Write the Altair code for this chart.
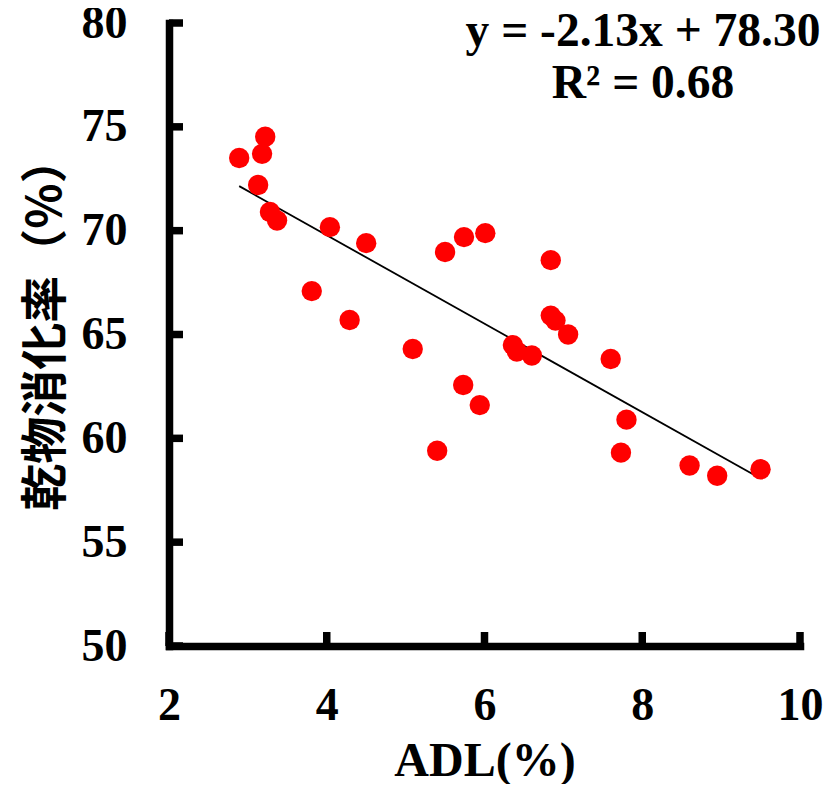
import altair as alt
import pandas as pd

# ADL (%) and dry-matter digestibility (%)
adl = [2.89, 3.22, 3.18, 3.13, 3.28, 3.37, 4.04, 4.50, 3.81, 4.29,
       5.50, 5.74, 6.01, 5.09, 5.73, 5.94, 5.40, 6.84, 6.84, 6.90,
       7.06, 6.36, 6.41, 6.60, 7.60, 7.80, 7.73, 8.60, 8.95, 9.50]
digest = [73.50, 74.52, 73.70, 72.20, 70.90, 70.49, 70.17, 69.40, 67.09, 65.70,
          68.97, 69.69, 69.88, 64.30, 62.57, 61.60, 59.40, 68.58, 65.91, 65.67,
          65.00, 64.49, 64.18, 63.99, 63.82, 60.90, 59.31, 58.69, 58.20, 58.51]

slope = -2.13
intercept = 78.30
eq_lines = ["y = -2.13x + 78.30", "R\u00b2 = 0.68"]

x_ticks = [2, 4, 6, 8, 10]
y_ticks = [50, 55, 60, 65, 70, 75, 80]

x_title = "ADL(%)"
y_title = "乾物消化率（%）"

W, H = 631, 623

pts = pd.DataFrame({"adl": adl, "dmd": digest})
xmin, xmax = min(adl), max(adl)
trend = pd.DataFrame({"adl": [xmin, xmax],
                      "dmd": [slope * xmin + intercept, slope * xmax + intercept]})
xt = pd.DataFrame({"v": x_ticks})
yt = pd.DataFrame({"v": y_ticks})

serif = "Liberation Serif"

xscale = alt.Scale(domain=[2, 10], nice=False, zero=False)
yscale = alt.Scale(domain=[50, 80], nice=False, zero=False)

xaxis = alt.Axis(values=x_ticks, format="d", title=x_title, labelFlush=False, labelPadding=37,
                 titlePadding=9, titleFont=serif, titleFontSize=48, titleFontWeight="bold")
yaxis = alt.Axis(values=y_ticks, format="d", title=y_title, labelPadding=42, titlePadding=11,
                 titleY=300,
                 titleFont="Noto Sans CJK JP", titleFontSize=47, titleFontWeight="bold")

points = alt.Chart(pts).mark_circle(size=415, color="#ff0000", opacity=1).encode(
    x=alt.X("adl:Q", scale=xscale, axis=xaxis),
    y=alt.Y("dmd:Q", scale=yscale, axis=yaxis),
)

line = alt.Chart(trend).mark_line(color="black", strokeWidth=1.8).encode(
    x=alt.X("adl:Q", scale=xscale),
    y=alt.Y("dmd:Q", scale=yscale),
)

xtick_marks = alt.Chart(xt).mark_rule(color="black", strokeWidth=7.5).encode(
    x=alt.X("v:Q", scale=xscale),
    y=alt.value(H),
    y2=alt.value(H - 14),
)
ytick_marks = alt.Chart(yt).mark_rule(color="black", strokeWidth=7.5).encode(
    y=alt.Y("v:Q", scale=yscale),
    x=alt.value(0),
    x2=alt.value(14),
)

eq = alt.Chart(pd.DataFrame({"a": [0]})).mark_text(
    font=serif, fontSize=47.5, fontWeight="bold", color="black",
    align="center", baseline="alphabetic", lineHeight=52,
).encode(
    x=alt.value(474),
    y=alt.value(23),
    text=alt.value(eq_lines),
)

chart = alt.layer(line, points, xtick_marks, ytick_marks, eq).properties(
    width=W, height=H,
    autosize=alt.AutoSizeParams(type="none"),
    padding={"left": 161, "top": 15, "right": 31, "bottom": 138},
).configure_view(stroke=None).configure_axis(
    grid=False, ticks=False, tickSize=0,
    domainColor="black", domainWidth=7.5, domainCap="square",
    labelFont=serif, labelFontSize=46, labelFontWeight="bold", labelColor="black",
    titleColor="black",
)

chart.save("out.html", embed_options={"renderer": "svg", "actions": False})
